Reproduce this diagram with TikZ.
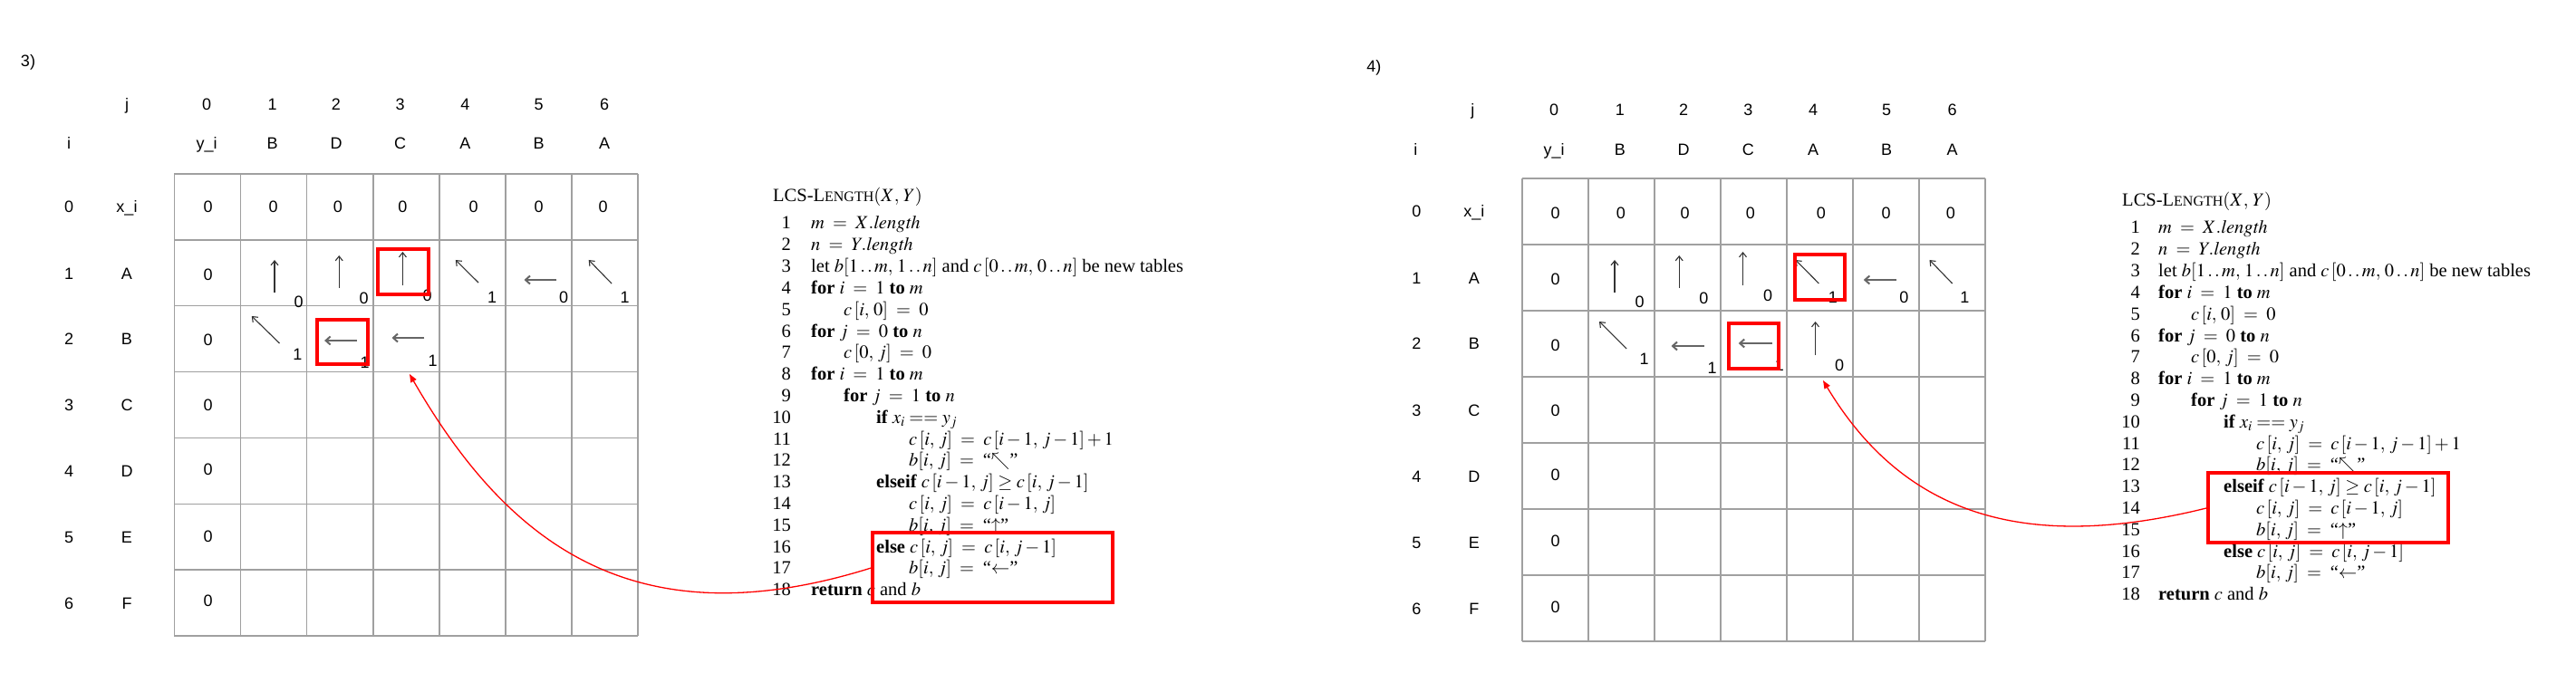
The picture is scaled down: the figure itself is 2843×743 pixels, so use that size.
\documentclass[tikz,border=0pt]{standalone}
\usepackage{mathptmx}
\usepackage{fontspec}
\setmainfont{Liberation Serif}
\newfontfamily\tabfont{Liberation Sans}
\usetikzlibrary{arrows.meta}
\definecolor{gridc}{RGB}{160,160,160}
\newcommand{\twodots}{\mathinner{\ldotp\ldotp}}
\newcommand{\cm}{,\,}
\newcommand{\pcl}[4]{%
  \node[lnum] (#1n#2) at (\numx, {\basey+(#2-1)*23.8}) {#2};
  \node[code] (#1t#2) at ({\codex+(#3-1)*36}, {\basey+(#2-1)*23.8}) {#4};}
\newcommand{\pseudo}[1]{%
  \node[code] (#1head) at ({\numx-20}, {\basey-30}) {LCS-L{\fontsize{16}{16}\selectfont ENGTH}$(X\cm Y)$};
  \pcl{#1}{1}{1}{$m \;=\; X.\mathit{length}$}
  \pcl{#1}{2}{1}{$n \;=\; Y.\mathit{length}$}
  \pcl{#1}{3}{1}{let $b[1\twodots m\cm 1\twodots n]$ and $c\,[0\twodots m\cm 0\twodots n]$ be new tables}
  \pcl{#1}{4}{1}{\textbf{for} $i \;=\; 1$ \textbf{to} $m$}
  \pcl{#1}{5}{2}{$c\,[i\cm 0] \;=\; 0$}
  \pcl{#1}{6}{1}{\textbf{for} $j \;=\; 0$ \textbf{to} $n$}
  \pcl{#1}{7}{2}{$c\,[0\cm j] \;=\; 0$}
  \pcl{#1}{8}{1}{\textbf{for} $i \;=\; 1$ \textbf{to} $m$}
  \pcl{#1}{9}{2}{\textbf{for} $j \;=\; 1$ \textbf{to} $n$}
  \pcl{#1}{10}{3}{\textbf{if} $x_i == y_j$}
  \pcl{#1}{11}{4}{$c\,[i\cm j] \;=\; c\,[i-1\cm j-1]+1$}
  \pcl{#1}{12}{4}{$b[i\cm j] \;=\;$ “$\nwarrow$”}
  \pcl{#1}{13}{3}{\textbf{elseif} $c\,[i-1\cm j] \geq c\,[i\cm j-1]$}
  \pcl{#1}{14}{4}{$c\,[i\cm j] \;=\; c\,[i-1\cm j]$}
  \pcl{#1}{15}{4}{$b[i\cm j] \;=\;$ “$\uparrow$”}
  \pcl{#1}{16}{3}{\textbf{else} $c\,[i\cm j] \;=\; c\,[i\cm j-1]$}
  \pcl{#1}{17}{4}{$b[i\cm j] \;=\;$ “$\leftarrow$”}
  \pcl{#1}{18}{1}{\textbf{return} $c$ and $b$}
}
\begin{document}
\begin{tikzpicture}[x=1pt,y=-1pt,
  lab/.style={font=\tabfont\fontsize{18}{18}\selectfont, inner sep=0pt, text height=13pt, text depth=0pt},
  code/.style={font=\fontsize{20.5}{24}\selectfont, inner sep=0pt, anchor=base west},
  lnum/.style={font=\fontsize{20.5}{24}\selectfont, inner sep=0pt, anchor=base east},
  gridline/.style={draw=gridc, line width=1.8pt},
  uparr/.style={draw=black!80, line width=1.1pt, -{Straight Barb[length=5pt,width=8pt]}},
  leftarr/.style={draw=black!60, line width=2pt, -{Straight Barb[length=5pt,width=9pt]}},
  hilite/.style={draw=red, line width=4pt, inner sep=0pt, outer sep=0pt, anchor=north west},
  link/.style={draw=red, line width=1.3pt, -{Triangle[length=9pt,width=7pt]}}]
\fill[white] (0,0) rectangle (2843,743);
\useasboundingbox (0,0) rectangle (2843,743);

% ================= LEFT PANEL (3) =================
\node[lab] (Ltitle) at (31,67) {3)};
\node[lab] (Lj) at (140,115) {j};
\foreach \x [count=\k from 0] in {228.2,300.7,371,441.7,513.3,594.6,667.1}
  \node[lab] (Lcol\k) at (\x,115) {\k};
\node[lab] (Li) at (76.2,158) {i};
\foreach \x/\t [count=\k from 0] in {228.2/y\_i,300.7/B,371/D,441.7/C,513.3/A,594.6/B,667.1/A}
  \node[lab] (Ly\k) at (\x,158) {\t};
\foreach \y/\t [count=\k from 0] in {228/x\_i,302/A,374/B,447/C,520/D,593/E,666/F}{
  \node[lab] (Lr\k) at (76.2,\y) {\k};
  \node[lab] (Lx\k) at (140,\y) {\t};}
% grid
\foreach \k in {0,...,7}{
  \draw[gridline] ({192.4+\k*73.07},191.7) -- ({192.4+\k*73.07},702.3);
  \draw[gridline] (192.4,{191.7+\k*72.94}) -- (703.9,{191.7+\k*72.94});}
% row 0 values
\foreach \x [count=\k from 0] in {229.6,301.7,372.8,444.4,522.5,594.6,665.7}
  \node[lab] (Lv0c\k) at (\x,228) {0};
\foreach \y [count=\k from 1] in {303,375,447,518,592,663}
  \node[lab] (Lv\k c0) at (229.6,\y) {0};
% row 1 arrows
\draw[uparr] (303,323) -- (303,287);
\draw[uparr] (374.2,318) -- (374.2,282);
\draw[uparr] (444.4,315) -- (444.4,278);
\draw[uparr] (528,312) -- (502.8,287);
\draw[leftarr] (614.3,309) -- (578.5,309);
\draw[uparr] (675,313) -- (649.7,287);
\node[lab] (Ls11) at (329.7,333) {0};
\node[lab] (Ls12) at (401.7,329) {0};
\node[lab] (Ls13) at (471.5,326) {0};
\node[lab] (Ls14) at (543.2,328) {1};
\node[lab] (Ls15) at (622.1,328) {0};
\node[lab] (Ls16) at (689.6,328) {1};
% row 2 arrows
\draw[uparr] (308.5,379) -- (277.8,349);
\draw[leftarr] (393.9,376) -- (358.1,376);
\draw[leftarr] (468.3,373) -- (432.5,373);
\node[lab] (Ls21) at (328.3,391) {1};
\node[lab] (Ls22) at (402.7,400) {1};
\node[lab] (Ls23) at (477.5,398) {1};
% highlight boxes
\node[hilite, minimum width=56pt, minimum height=50pt] (Lhb1) at (416.9,275) {};
\node[hilite, minimum width=55.6pt, minimum height=49pt] (Lhb2) at (350.3,353) {};
% pseudocode
\def\numx{873}\def\codex{895}\def\basey{253}
\pseudo{L}
\node[hilite, minimum width=265pt, minimum height=77pt] (Lcodebox) at (963,588) {};
\coordinate (Ltip) at (452,413);
\draw[link] (Lcodebox.west) .. controls +(-263,83) and +(108,187) .. (Ltip);

% ================= RIGHT PANEL (4) =================
\node[lab] (Rtitle) at (1516.4,73) {4)};
\node[lab] (Rj) at (1625.4,121) {j};
\foreach \x [count=\k from 0] in {1715.1,1787.8,1858.1,1929.4,2001.1,2082,2154.7}
  \node[lab] (Rcol\k) at (\x,121) {\k};
\node[lab] (Ri) at (1562.4,165) {i};
\foreach \x/\t [count=\k from 0] in {1715.1/y\_i,1787.8/B,1858.1/D,1929.4/C,2001.1/A,2082/B,2154.7/A}
  \node[lab] (Ry\k) at (\x,165) {\t};
\foreach \y/\t [count=\k from 0] in {233/x\_i,307/A,379/B,453/C,526/D,599/E,672/F}{
  \node[lab] (Rr\k) at (1563.4,\y) {\k};
  \node[lab] (Rx\k) at (1626.9,\y) {\t};}
% grid
\foreach \k in {0,...,7}{
  \draw[gridline] ({1680.2+\k*73},197.3) -- ({1680.2+\k*73},708.3);
  \draw[gridline] (1680.2,{197.3+\k*73}) -- (2191.2,{197.3+\k*73});}
\foreach \x [count=\k from 0] in {1716.5,1788.8,1859.5,1931.8,2009.8,2081.6,2152.8}
  \node[lab] (Rv0c\k) at (\x,235) {0};
\foreach \y [count=\k from 1] in {308,381,453,524,597,670}
  \node[lab] (Rv\k c0) at (1716.5,\y) {0};
% row 1 arrows
\draw[uparr] (1782,323) -- (1782,287);
\draw[uparr] (1853.2,318) -- (1853.2,282);
\draw[uparr] (1923.5,315) -- (1923.5,278);
\draw[uparr] (2007.4,313) -- (1981.7,287);
\draw[leftarr] (2093.2,309) -- (2056.8,309);
\draw[uparr] (2154.7,313) -- (2129.5,287);
\node[lab] (Rs11) at (1809.6,333) {0};
\node[lab] (Rs12) at (1880.4,329) {0};
\node[lab] (Rs13) at (1951.2,326) {0};
\node[lab] (Rs14) at (2022.9,328) {1};
\node[lab] (Rs15) at (2101.4,328) {0};
\node[lab] (Rs16) at (2168.3,328) {1};
% row 2 arrows
\draw[uparr] (1795.1,385) -- (1765,355);
\draw[leftarr] (1880.9,382) -- (1844.5,382);
\draw[leftarr] (1956,379) -- (1918.7,379);
\draw[uparr] (2003.5,392) -- (2003.5,355);
\node[lab] (Rs21) at (1814.5,396) {1};
\node[lab] (Rs22) at (1889.6,406) {1};
\node[lab] (Rs23) at (1963.8,403) {1};
\node[lab] (Rs24) at (2030.2,403) {0};
% highlight boxes
\node[hilite, minimum width=54.8pt, minimum height=50pt] (Rhb1) at (1980.7,281) {};
\node[hilite, minimum width=55.3pt, minimum height=50pt] (Rhb2) at (1907.5,357) {};
% pseudocode
\def\numx{2362}\def\codex{2382}\def\basey{258}
\pseudo{R}
\node[hilite, minimum width=265pt, minimum height=77pt] (Rcodebox) at (2437,522) {};
\coordinate (Rtip) at (2012,420);
\draw[link] (Rcodebox.west) .. controls +(-200,50) and +(90,150) .. (Rtip);
\end{tikzpicture}
\end{document}
